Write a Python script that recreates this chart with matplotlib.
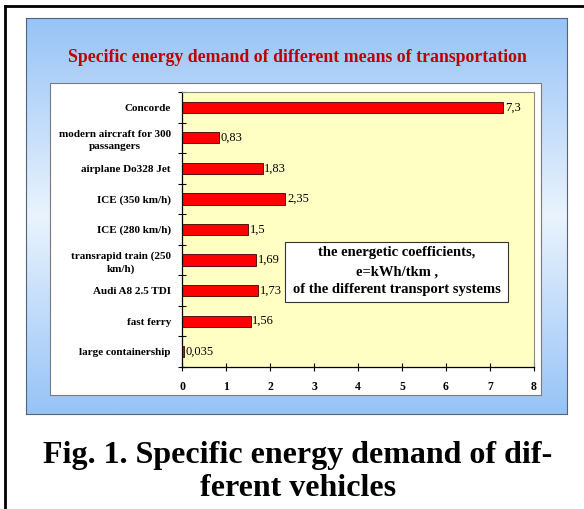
import numpy as np
import matplotlib.pyplot as plt
from matplotlib.colors import LinearSegmentedColormap
from matplotlib.patches import Rectangle

# data, top to bottom as in the chart
vehicles = [
    "Concorde",
    "modern aircraft for 300\npassangers",
    "airplane Do328 Jet",
    "ICE (350 km/h)",
    "ICE (280 km/h)",
    "transrapid train (250\nkm/h)",
    "Audi A8 2.5 TDI",
    "fast ferry",
    "large containership",
]
energy = [7.3, 0.83, 1.83, 2.35, 1.5, 1.69, 1.73, 1.56, 0.035]
value_labels = ["7,3", "0,83", "1,83", "2,35", "1,5", "1,69", "1,73", "1,56", "0,035"]
x_ticks = [0, 1, 2, 3, 4, 5, 6, 7, 8]

chart_title = "Specific energy demand of different means of transportation"
box_lines = ["the energetic coefficients,", "e=kWh/tkm ,", "of the different transport systems"]
caption_lines = ["Fig. 1. Specific energy demand of dif-", "ferent vehicles"]

W, H = 584, 509
SERIF = ["Liberation Serif", "DejaVu Serif"]


def px_box(x0, y0, x1, y1):
    """Pixel box (origin top-left) -> [left, bottom, width, height] in figure fractions."""
    return [x0 / W, 1 - y1 / H, (x1 - x0) / W, (y1 - y0) / H]


def fx(x):
    return x / W


def fy(y):
    return 1 - y / H


plt.rcParams["font.family"] = SERIF

fig = plt.figure(figsize=(W / 100, H / 100), dpi=100)
fig.patch.set_facecolor("white")

# outer black frame of the page
fig.add_artist(plt.Line2D([fx(4.7), fx(4.7)], [0, fy(6)], color="black", lw=2))
fig.add_artist(plt.Line2D([fx(4.7), 1], [fy(6), fy(6)], color="black", lw=2))

# blue gradient panel (blue - light - blue, vertically)
ax_bg = fig.add_axes(px_box(26, 18, 567, 414), zorder=-3)
cmap = LinearSegmentedColormap.from_list(
    "panel", ["#97c3f6", "#eaf3fd", "#97c3f6"]
)
grad = np.linspace(0, 1, 256).reshape(-1, 1)
ax_bg.imshow(grad, cmap=cmap, aspect="auto", extent=[0, 1, 0, 1])
ax_bg.set_xticks([])
ax_bg.set_yticks([])
for sp in ax_bg.spines.values():
    sp.set_color("#50647a")
    sp.set_linewidth(0.8)

# white frame around the plot
x0, y0, w0, h0 = px_box(50, 83, 541, 395)
fig.add_artist(Rectangle((x0, y0), w0, h0, transform=fig.transFigure,
                         facecolor="white", edgecolor="#7a7a7a", lw=0.8, zorder=-1))

fig.text(fx(297.5), fy(57), chart_title, color="#c00000", fontsize=12.8,
         fontweight="bold", ha="center", va="center")

# the bar chart
ax = fig.add_axes(px_box(182, 92, 534, 367))
ax.set_facecolor("#ffffc4")
pos = np.arange(len(vehicles))
ax.barh(pos, energy, height=0.37, color="#ff0000", edgecolor="#400000", lw=0.6)
for p, v, lab in zip(pos, energy, value_labels):
    ax.text(v + 0.04, p, lab, va="center", ha="left", fontsize=9)

ax.set_xlim(0, 8)
ax.set_ylim(len(vehicles) - 0.5, -0.5)
ax.set_xticks(x_ticks)
ax.set_xticklabels([str(t) for t in x_ticks], fontweight="bold", fontsize=8.5)
ax.set_yticks(pos)
ax.set_yticklabels(vehicles, fontweight="bold", fontsize=8,
                   multialignment="center", linespacing=1.4)
ax.set_yticks(np.arange(-0.5, len(vehicles), 1), minor=True)
ax.tick_params(axis="y", which="major", length=0, pad=8)
ax.tick_params(axis="y", which="minor", direction="inout", length=6, width=0.8)
ax.tick_params(axis="x", direction="inout", length=6, width=0.8, pad=7)
for side in ("top", "right"):
    ax.spines[side].set_color("#8a8a8a")
    ax.spines[side].set_linewidth(0.8)
for side in ("left", "bottom"):
    ax.spines[side].set_color("black")
    ax.spines[side].set_linewidth(0.9)

# legend-like text box
bx, by, bw, bh = px_box(285, 242, 508, 302)
fig.add_artist(Rectangle((bx, by), bw, bh, transform=fig.transFigure,
                         facecolor="white", edgecolor="#333333", lw=0.8, zorder=5))
for yy, line in zip([253, 272, 290], box_lines):
    fig.text(fx(396.5), fy(yy), line, fontsize=10.5, fontweight="bold",
             ha="center", va="center", zorder=6)

for yy, line in zip([456, 489], caption_lines):
    fig.text(fx(298), fy(yy), line, fontsize=23, fontweight="bold",
             ha="center", va="center")

fig.savefig("out.png", dpi=100)
